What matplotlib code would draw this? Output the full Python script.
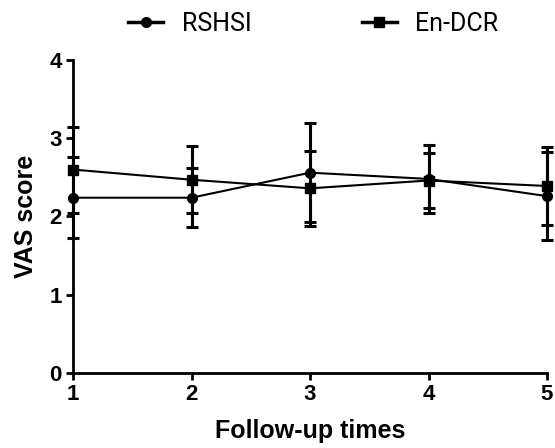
"""VAS score over follow-up times, RSHSI vs En-DCR"""

import matplotlib
matplotlib.use("Agg")
import matplotlib.pyplot as plt

times = [1, 2, 3, 4, 5]
rshsi_mean = [2.24, 2.24, 2.56, 2.48, 2.26]
rshsi_sd = [0.52, 0.38, 0.63, 0.44, 0.56]
endcr_mean = [2.60, 2.47, 2.36, 2.46, 2.39]
endcr_sd = [0.55, 0.43, 0.48, 0.35, 0.50]

plt.rcParams['font.family'] = ['Liberation Sans', 'DejaVu Sans']

fig = plt.figure(figsize=(5.55, 4.48), dpi=100)
ax = fig.add_axes([73 / 555, 1 - 373 / 448, 474 / 555, 313 / 448])

style = dict(color='black', markersize=7, linewidth=1.5, elinewidth=2.2,
             capsize=4, capthick=2.2, clip_on=False)
ax.errorbar(times, rshsi_mean, yerr=rshsi_sd, marker='o', label='RSHSI', **style)
ax.errorbar(times, endcr_mean, yerr=endcr_sd, marker='s', label='En-DCR', **style)

ax.set_xlim(1, 5)
ax.set_ylim(0, 4)
ax.set_xticks(times)
ax.set_yticks([0, 1, 2, 3, 4])
for s in ['top', 'right']:
    ax.spines[s].set_visible(False)
for s in ['left', 'bottom']:
    ax.spines[s].set_linewidth(2.0)
ax.tick_params(width=2.0, length=5, labelsize=16, pad=3)
for lab in ax.get_xticklabels() + ax.get_yticklabels():
    lab.set_fontweight('bold')

ax.set_xlabel('Follow-up times', fontsize=18, fontweight='bold', labelpad=10)
ax.set_ylabel('VAS score', fontsize=18, fontweight='bold', labelpad=8)

handles, labels = ax.get_legend_handles_labels()
handles = [h[0] for h in handles]
leg = fig.legend(handles, labels, loc='center left',
                 bbox_to_anchor=(128 / 555, 1 - 24 / 448),
                 ncol=2, frameon=False, handlelength=1.4, handletextpad=0.75,
                 columnspacing=4.4, borderpad=0, borderaxespad=0,
                 prop={'family': 'Roboto', 'size': 18})
for line in leg.get_lines():
    line.set_linewidth(2.5)
    line.set_markersize(7)

plt.savefig('out.png', dpi=100)
